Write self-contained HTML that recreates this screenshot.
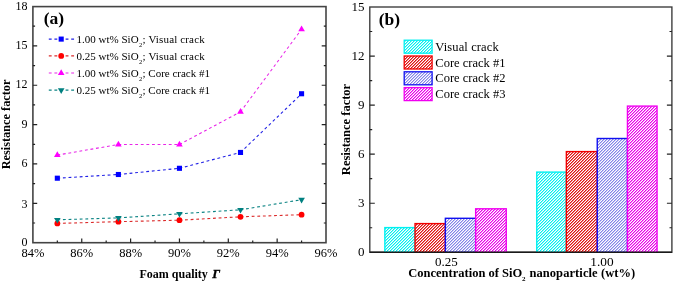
<!DOCTYPE html><html><head><meta charset="utf-8"><style>html,body{margin:0;padding:0;background:#fff;}svg{display:block;filter:blur(0.3px);}text{font-family:"Liberation Serif",serif;}</style></head><body>
<svg width="675" height="283" viewBox="0 0 675 283">
<defs>
<pattern id="hc" patternUnits="userSpaceOnUse" x="0" y="0" width="3" height="3" shape-rendering="crispEdges"><rect width="3" height="3" fill="#fff"/><rect x="1" y="0" width="1" height="1" fill="#00f0f0"/><rect x="2" y="0" width="1" height="1" fill="#90f8f8"/><rect x="0" y="1" width="1" height="1" fill="#00f0f0"/><rect x="1" y="1" width="1" height="1" fill="#90f8f8"/><rect x="0" y="2" width="1" height="1" fill="#90f8f8"/><rect x="2" y="2" width="1" height="1" fill="#00f0f0"/></pattern>
<pattern id="hr" patternUnits="userSpaceOnUse" x="0" y="0" width="3" height="3" shape-rendering="crispEdges"><rect width="3" height="3" fill="#fff"/><rect x="1" y="0" width="1" height="1" fill="#dc1414"/><rect x="2" y="0" width="1" height="1" fill="#f07c7c"/><rect x="0" y="1" width="1" height="1" fill="#dc1414"/><rect x="1" y="1" width="1" height="1" fill="#f07c7c"/><rect x="0" y="2" width="1" height="1" fill="#f07c7c"/><rect x="2" y="2" width="1" height="1" fill="#dc1414"/></pattern>
<pattern id="hb" patternUnits="userSpaceOnUse" x="0" y="0" width="3" height="3" shape-rendering="crispEdges"><rect width="3" height="3" fill="#fff"/><rect x="1" y="0" width="1" height="1" fill="#8484e8"/><rect x="2" y="0" width="1" height="1" fill="#c6c6f4"/><rect x="0" y="1" width="1" height="1" fill="#8484e8"/><rect x="1" y="1" width="1" height="1" fill="#c6c6f4"/><rect x="0" y="2" width="1" height="1" fill="#c6c6f4"/><rect x="2" y="2" width="1" height="1" fill="#8484e8"/></pattern>
<pattern id="hm" patternUnits="userSpaceOnUse" x="0" y="0" width="3" height="3" shape-rendering="crispEdges"><rect width="3" height="3" fill="#fff"/><rect x="1" y="0" width="1" height="1" fill="#ea00ea"/><rect x="2" y="0" width="1" height="1" fill="#f484f4"/><rect x="0" y="1" width="1" height="1" fill="#ea00ea"/><rect x="1" y="1" width="1" height="1" fill="#f484f4"/><rect x="0" y="2" width="1" height="1" fill="#f484f4"/><rect x="2" y="2" width="1" height="1" fill="#ea00ea"/></pattern>
</defs>
<rect width="675" height="283" fill="#fff"/>
<rect x="32.9" y="6.6" width="293.10" height="236.10" fill="none" stroke="#444" stroke-width="1.6"/>
<path d="M32.90 223.02h2.2M326.00 223.02h-2.2M32.90 203.33h4.3M326.00 203.33h-4.3M32.90 183.65h2.2M326.00 183.65h-2.2M32.90 163.97h4.3M326.00 163.97h-4.3M32.90 144.28h2.2M326.00 144.28h-2.2M32.90 124.60h4.3M326.00 124.60h-4.3M32.90 104.92h2.2M326.00 104.92h-2.2M32.90 85.24h4.3M326.00 85.24h-4.3M32.90 65.55h2.2M326.00 65.55h-2.2M32.90 45.87h4.3M326.00 45.87h-4.3M32.90 26.19h2.2M326.00 26.19h-2.2M57.33 242.70v-2.2M81.75 242.70v-4.3M106.18 242.70v-2.2M130.60 242.70v-4.3M155.03 242.70v-2.2M179.45 242.70v-4.3M203.88 242.70v-2.2M228.30 242.70v-4.3M252.73 242.70v-2.2M277.15 242.70v-4.3M301.57 242.70v-2.2" stroke="#222" stroke-width="1.2" fill="none"/>
<text x="27.6" y="246.30" font-size="12" text-anchor="end">0</text>
<text x="27.6" y="207.63" font-size="12" text-anchor="end">3</text>
<text x="27.6" y="167.27" font-size="12" text-anchor="end">6</text>
<text x="27.6" y="127.80" font-size="12" text-anchor="end">9</text>
<text x="27.6" y="88.34" font-size="12" text-anchor="end">12</text>
<text x="27.6" y="48.97" font-size="12" text-anchor="end">15</text>
<text x="27.6" y="9.60" font-size="12" text-anchor="end">18</text>
<text x="32.90" y="257.3" font-size="12.5" text-anchor="middle">84%</text>
<text x="81.75" y="257.3" font-size="12.5" text-anchor="middle">86%</text>
<text x="130.60" y="257.3" font-size="12.5" text-anchor="middle">88%</text>
<text x="179.45" y="257.3" font-size="12.5" text-anchor="middle">90%</text>
<text x="228.30" y="257.3" font-size="12.5" text-anchor="middle">92%</text>
<text x="277.15" y="257.3" font-size="12.5" text-anchor="middle">94%</text>
<text x="326.00" y="257.3" font-size="12.5" text-anchor="middle">96%</text>
<text x="139.5" y="278.2" font-size="12" font-weight="bold">Foam quality</text>
<text x="212.3" y="278.2" font-size="13" font-style="italic" font-weight="bold" stroke="#000" stroke-width="0.35">&#915;</text>
<text transform="translate(10.2,124.45) rotate(-90)" font-size="12.3" font-weight="bold" text-anchor="middle">Resistance factor</text>
<text x="43.7" y="23.9" font-size="17.5" font-weight="bold">(a)</text>
<path d="M57.33 178.20L118.39 174.50M118.39 174.50L179.45 168.30M179.45 168.30L240.51 152.45M240.51 152.45L301.57 93.75" fill="none" stroke="#2222e6" stroke-width="1.1" stroke-dasharray="2.85 2.75" stroke-dashoffset="0"/>
<path d="M57.33 223.40L118.39 221.70M118.39 221.70L179.45 220.20M179.45 220.20L240.51 216.80M240.51 216.80L301.57 214.70" fill="none" stroke="#dc2c2c" stroke-width="1.1" stroke-dasharray="2.85 2.75" stroke-dashoffset="0"/>
<path d="M57.33 155.10L118.39 144.50M118.39 144.50L179.45 144.50M179.45 144.50L240.51 111.80M240.51 111.80L301.57 29.30" fill="none" stroke="#e826e8" stroke-width="1.1" stroke-dasharray="2.85 2.75" stroke-dashoffset="0"/>
<path d="M57.33 219.80L118.39 217.90M118.39 217.90L179.45 213.80M179.45 213.80L240.51 209.80M240.51 209.80L301.57 199.70" fill="none" stroke="#0c8484" stroke-width="1.1" stroke-dasharray="2.85 2.75" stroke-dashoffset="0"/>
<rect x="54.78" y="175.65" width="5.1" height="5.1" fill="#0000ff"/>
<rect x="115.84" y="171.95" width="5.1" height="5.1" fill="#0000ff"/>
<rect x="176.90" y="165.75" width="5.1" height="5.1" fill="#0000ff"/>
<rect x="237.96" y="149.90" width="5.1" height="5.1" fill="#0000ff"/>
<rect x="299.02" y="91.20" width="5.1" height="5.1" fill="#0000ff"/>
<circle cx="57.33" cy="223.40" r="2.9" fill="#ff0000"/>
<circle cx="118.39" cy="221.70" r="2.9" fill="#ff0000"/>
<circle cx="179.45" cy="220.20" r="2.9" fill="#ff0000"/>
<circle cx="240.51" cy="216.80" r="2.9" fill="#ff0000"/>
<circle cx="301.57" cy="214.70" r="2.9" fill="#ff0000"/>
<path d="M57.33 151.29L60.62 157.01L54.03 157.01Z" fill="#ff00ff"/>
<path d="M118.39 140.69L121.69 146.41L115.09 146.41Z" fill="#ff00ff"/>
<path d="M179.45 140.69L182.75 146.41L176.15 146.41Z" fill="#ff00ff"/>
<path d="M240.51 107.99L243.81 113.71L237.21 113.71Z" fill="#ff00ff"/>
<path d="M301.57 25.49L304.88 31.21L298.27 31.21Z" fill="#ff00ff"/>
<path d="M57.33 223.61L60.62 217.89L54.03 217.89Z" fill="#008080"/>
<path d="M118.39 221.71L121.69 215.99L115.09 215.99Z" fill="#008080"/>
<path d="M179.45 217.61L182.75 211.89L176.15 211.89Z" fill="#008080"/>
<path d="M240.51 213.61L243.81 207.89L237.21 207.89Z" fill="#008080"/>
<path d="M301.57 203.51L304.88 197.79L298.27 197.79Z" fill="#008080"/>
<path d="M48.8 39.1H74.2" stroke="#2222e6" stroke-width="1.1" stroke-dasharray="2.85 2.75"/>
<rect x="58.65" y="36.55" width="5.1" height="5.1" fill="#0000ff"/>
<text x="76.6" y="42.80" font-size="11">1.00 wt% SiO</text>
<text x="139.0" y="46.70" font-size="6.5">2</text>
<text x="142.5" y="42.80" font-size="11" letter-spacing="0.15">; Visual crack</text>
<path d="M48.8 55.9H74.2" stroke="#dc2c2c" stroke-width="1.1" stroke-dasharray="2.85 2.75"/>
<circle cx="61.20" cy="55.90" r="2.9" fill="#ff0000"/>
<text x="76.6" y="59.60" font-size="11">0.25 wt% SiO</text>
<text x="139.0" y="63.50" font-size="6.5">2</text>
<text x="142.5" y="59.60" font-size="11" letter-spacing="0.15">; Visual crack</text>
<path d="M48.8 73.0H74.2" stroke="#e826e8" stroke-width="1.1" stroke-dasharray="2.85 2.75"/>
<path d="M61.20 69.19L64.50 74.91L57.90 74.91Z" fill="#ff00ff"/>
<text x="76.6" y="76.70" font-size="11">1.00 wt% SiO</text>
<text x="139.0" y="80.60" font-size="6.5">2</text>
<text x="142.5" y="76.70" font-size="11">; Core crack #1</text>
<path d="M48.8 90.1H74.2" stroke="#0c8484" stroke-width="1.1" stroke-dasharray="2.85 2.75"/>
<path d="M61.20 93.91L64.50 88.19L57.90 88.19Z" fill="#008080"/>
<text x="76.6" y="93.80" font-size="11">0.25 wt% SiO</text>
<text x="139.0" y="97.70" font-size="6.5">2</text>
<text x="142.5" y="93.80" font-size="11">; Core crack #1</text>
<rect x="369.8" y="7.0" width="302.10" height="245.30" fill="none" stroke="#383838" stroke-width="1.35"/>
<path d="M369.80 227.77h2.4M671.90 227.77h-2.4M369.80 203.23h5.0M671.90 203.23h-5.0M369.80 178.70h2.4M671.90 178.70h-2.4M369.80 154.16h5.0M671.90 154.16h-5.0M369.80 129.63h2.4M671.90 129.63h-2.4M369.80 105.10h5.0M671.90 105.10h-5.0M369.80 80.56h2.4M671.90 80.56h-2.4M369.80 56.03h5.0M671.90 56.03h-5.0M369.80 31.49h2.4M671.90 31.49h-2.4" stroke="#222" stroke-width="1.2" fill="none"/>
<text x="364.4" y="255.90" font-size="13" text-anchor="end">0</text>
<text x="364.4" y="206.83" font-size="13" text-anchor="end">3</text>
<text x="364.4" y="157.76" font-size="13" text-anchor="end">6</text>
<text x="364.4" y="108.70" font-size="13" text-anchor="end">9</text>
<text x="364.4" y="59.63" font-size="13" text-anchor="end">12</text>
<text x="364.4" y="10.56" font-size="13" text-anchor="end">15</text>
<text x="446.4" y="265.8" font-size="13" text-anchor="middle">0.25</text>
<text x="602.0" y="265.6" font-size="13.3" text-anchor="middle">1.00</text>
<text x="408.3" y="276.5" font-size="12.5" font-weight="bold">Concentration of SiO</text>
<text x="522" y="280.6" font-size="7" font-weight="bold">2</text>
<text x="529.4" y="276.5" font-size="12.5" font-weight="bold" letter-spacing="0.08">nanoparticle (wt%)</text>
<text transform="translate(350.3,129.5) rotate(-90)" font-size="12.5" font-weight="bold" text-anchor="middle">Resistance factor</text>
<text x="378.7" y="24.7" font-size="17.5" font-weight="bold">(b)</text>
<rect x="384.85" y="227.60" width="30.20" height="24.70" fill="url(#hc)" stroke="#00f0f0" stroke-width="1.4"/>
<rect x="415.05" y="223.60" width="30.30" height="28.70" fill="url(#hr)" stroke="#f00000" stroke-width="1.4"/>
<rect x="445.35" y="218.30" width="30.30" height="34.00" fill="url(#hb)" stroke="#1010f0" stroke-width="1.4"/>
<rect x="475.65" y="208.80" width="30.60" height="43.50" fill="url(#hm)" stroke="#f000f0" stroke-width="1.4"/>
<rect x="536.75" y="172.10" width="29.60" height="80.20" fill="url(#hc)" stroke="#00f0f0" stroke-width="1.4"/>
<rect x="566.35" y="151.60" width="30.90" height="100.70" fill="url(#hr)" stroke="#f00000" stroke-width="1.4"/>
<rect x="597.25" y="138.50" width="30.20" height="113.80" fill="url(#hb)" stroke="#1010f0" stroke-width="1.4"/>
<rect x="627.45" y="106.10" width="29.60" height="146.20" fill="url(#hm)" stroke="#f000f0" stroke-width="1.4"/>
<path d="M369.8 252.3H671.9" stroke="#1a1a1a" stroke-width="1.4"/>
<rect x="404.2" y="40.20" width="27.9" height="13" fill="url(#hc)" stroke="#00f0f0" stroke-width="1.3"/>
<text x="435.3" y="50.80" font-size="12.5" letter-spacing="0.12">Visual crack</text>
<rect x="404.2" y="56.00" width="27.9" height="13" fill="url(#hr)" stroke="#f00000" stroke-width="1.3"/>
<text x="435.3" y="66.60" font-size="12.5">Core crack #1</text>
<rect x="404.2" y="71.80" width="27.9" height="13" fill="url(#hb)" stroke="#1010f0" stroke-width="1.3"/>
<text x="435.3" y="82.40" font-size="12.5">Core crack #2</text>
<rect x="404.2" y="87.60" width="27.9" height="13" fill="url(#hm)" stroke="#f000f0" stroke-width="1.3"/>
<text x="435.3" y="98.20" font-size="12.5">Core crack #3</text>
</svg></body></html>
